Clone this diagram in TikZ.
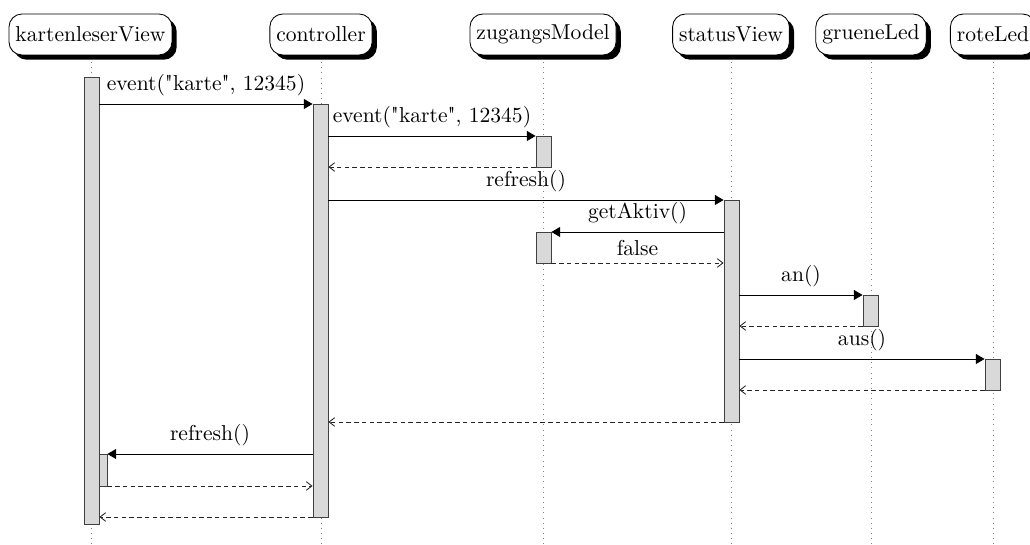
\documentclass[tikz,border=0pt]{standalone}
\usetikzlibrary{arrows.meta,shadows,fit}
\newcommand\dquo{\XeTeXglyph\XeTeXglyphindex "quotedbl" \relax}
\tikzset{
  head/.style={draw, fill=white, rounded corners=6pt, inner sep=3pt, minimum height=19pt,
    drop shadow={shadow xshift=2.2pt, shadow yshift=-2.2pt, fill=black, opacity=1}},
  life/.style={draw=gray, dotted},
  actbar/.style={draw=black!75, fill=gray!30, inner sep=0pt},
  call/.style={draw=black, -{Triangle[length=4pt,width=4.6pt]}},
  ret/.style={draw=black!85, dash pattern=on 2.1pt off 1.5pt, -{Straight Barb[length=2.6pt,width=4pt]}},
  lbl/.style={above}
}
\begin{document}
\begin{tikzpicture}[x=0.4636pt, y=-0.4636pt]
\useasboundingbox (0,0) rectangle (1030,545);
% headers
\node[head] (hk) at (90.5,34.5) {kartenleserView};
\node[head] (hc) at (321,34.5) {controller};
\node[head] (hz) at (543,34.5) {zugangsModel};
\node[head] (hs) at (731,34.5) {statusView};
\node[head] (hg) at (871,34.5) {grueneLed};
\node[head] (hr) at (993,34.5) {roteLed};
% lifelines
\foreach \n/\x in {hk/91.5,hc/321,hz/543,hs/731,hg/871,hr/993}{
  \coordinate (\n-top) at (\x,62);
  \coordinate (\n-bot) at (\x,560);
  \draw[life] (\n-top) -- (\n-bot);
}
% activation bars
\node[actbar, fit={(84,77) (99,524)}] (kb) {};
\node[actbar, fit={(99,454) (107,486)}] (kb2) {};
\node[actbar, fit={(313,104) (328,517)}] (cb) {};
\node[actbar, fit={(536,136) (551,167)}] (zb1) {};
\node[actbar, fit={(536,232) (551,263)}] (zb2) {};
\node[actbar, fit={(724,200) (739,422)}] (sb) {};
\node[actbar, fit={(863,295) (878,326)}] (gb) {};
\node[actbar, fit={(985,359) (1000,390)}] (rb) {};
% messages
\draw[call] (kb.east |- 0,104) -- node[lbl]{event(\dquo karte\dquo, 12345)} (cb.west |- 0,104);
\draw[call] (cb.east |- 0,136) -- node[lbl]{event(\dquo karte\dquo, 12345)} (zb1.west |- 0,136);
\draw[ret] (zb1.west |- 0,167) -- (cb.east |- 0,167);
\draw[call] (cb.east |- 0,200) -- node[lbl]{refresh()} (sb.west |- 0,200);
\draw[call] (sb.west |- 0,232) -- node[lbl]{getAktiv()} (zb2.east |- 0,232);
\draw[ret] (zb2.east |- 0,263) -- node[lbl]{false} (sb.west |- 0,263);
\draw[call] (sb.east |- 0,295) -- node[lbl]{an()} (gb.west |- 0,295);
\draw[ret] (gb.west |- 0,326) -- (sb.east |- 0,326);
\draw[call] (sb.east |- 0,359) -- node[lbl]{aus()} (rb.west |- 0,359);
\draw[ret] (rb.west |- 0,390) -- (sb.east |- 0,390);
\draw[ret] (sb.west |- 0,422) -- (cb.east |- 0,422);
\draw[call] (cb.west |- 0,454) -- node[lbl]{refresh()} (kb2.east |- 0,454);
\draw[ret] (kb2.east |- 0,486) -- (cb.west |- 0,486);
\draw[ret] (cb.west |- 0,517) -- (kb.east |- 0,517);
\end{tikzpicture}
\end{document}
